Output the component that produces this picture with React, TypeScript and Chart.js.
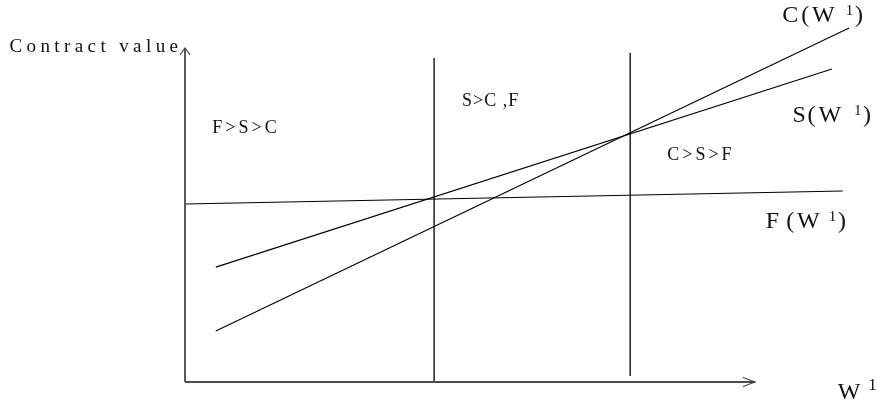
import React, { useEffect, useRef } from "react";
import { Chart, registerables } from "chart.js";

Chart.register(...registerables);

// ---- data (W¹ on x, contract value on y, arbitrary units) ----
const AXIS_W = [0, 100];
const AXIS_V = [0, 100];
const F_W = [0, 115.4];
const F_V = [53.3, 57.2];
const S_W = [5.4, 113.5];
const S_V = [34.4, 93.7];
const C_W = [5.4, 116.5];
const C_V = [15.3, 106.0];
const CUTOFF_W = [43.7, 78.1];
const CUTOFF_LOW = [0, 1.8];
const CUTOFF_HIGH = [97.0, 98.5];

const REGION_LABELS = ["F>S>C", "S>C ,F", "C>S>F"];
const REGION_W = [4.8, 48.6, 84.6];
const REGION_V = [74.6, 82.5, 66.5];

const CURVE_NAMES = ["C", "S", "F"];
const CURVE_W = [104.8, 106.6, 101.9];
const CURVE_V = [107.8, 77.8, 46.1];

const Y_TITLE = "Contract value";
const Y_TITLE_POS = [-30.8, 98.9];
const X_TITLE = "W";
const X_TITLE_POS = [114.5, -5.1];
const SUP = "1";

// layout of the curve-label pieces: gaps (px) before "(", "W", "1", ")"
const CURVE_GAPS = [
  [2.8, 2.9, 11, 1.7],
  [1.6, 3.0, 12.7, 1.7],
  [7.0, 2.9, 9.0, 1.7],
];

const FONT = "'Liberation Serif', 'Times New Roman', serif";

const pts = (xs: number[], ys: number[]) => xs.map((x, i) => ({ x, y: ys[i] }));

function spacedText(ctx: CanvasRenderingContext2D, text: string, x: number, y: number, spacing: number) {
  let cx = x;
  for (const ch of text) {
    ctx.fillText(ch, cx, y);
    cx += ctx.measureText(ch).width + spacing;
  }
  return cx - spacing;
}

type Part = { text: string; size: number; raise?: number; gap?: number; spacing?: number };

function rich(ctx: CanvasRenderingContext2D, x: number, y: number, parts: Part[]) {
  let cx = x;
  for (const p of parts) {
    cx += p.gap || 0;
    ctx.font = `${p.size}px ${FONT}`;
    cx = spacedText(ctx, p.text, cx, y - (p.raise || 0), p.spacing || 0);
  }
}

const annotations = {
  id: "annotations",
  afterDatasetsDraw(chart: any) {
    const ctx: CanvasRenderingContext2D = chart.ctx;
    const xs = chart.scales.x;
    const ys = chart.scales.y;
    const px = (v: number) => xs.getPixelForValue(v);
    const py = (v: number) => ys.getPixelForValue(v);
    ctx.save();
    // arrowheads
    ctx.strokeStyle = "#444";
    ctx.lineWidth = 1.2;
    const ox = px(AXIS_W[0]);
    const oy = py(AXIS_V[0]);
    const tx = px(AXIS_W[1]);
    const ty = py(AXIS_V[1]);
    ctx.beginPath();
    ctx.moveTo(tx - 12, oy - 4.5);
    ctx.lineTo(tx, oy);
    ctx.lineTo(tx - 12, oy + 4.5);
    ctx.stroke();
    ctx.beginPath();
    ctx.moveTo(ox - 5, ty + 7);
    ctx.lineTo(ox, ty);
    ctx.lineTo(ox + 5, ty + 7);
    ctx.stroke();

    ctx.fillStyle = "#111";
    ctx.textBaseline = "alphabetic";
    ctx.textAlign = "left";
    // y title
    ctx.font = `19px ${FONT}`;
    spacedText(ctx, Y_TITLE, px(Y_TITLE_POS[0]), py(Y_TITLE_POS[1]), 4.4);
    // region labels
    const regionSpacing = [3, 1, 3];
    ctx.font = `18px ${FONT}`;
    REGION_LABELS.forEach((t, i) => {
      spacedText(ctx, t, px(REGION_W[i]), py(REGION_V[i]), regionSpacing[i]);
    });
    // curve labels
    CURVE_NAMES.forEach((t, i) => {
      const g = CURVE_GAPS[i];
      rich(ctx, px(CURVE_W[i]), py(CURVE_V[i]), [
        { text: t, size: 24 },
        { text: "(", size: 24, gap: g[0] },
        { text: X_TITLE, size: 24, gap: g[1] },
        { text: SUP, size: 15, raise: 7, gap: g[2] },
        { text: ")", size: 24, gap: g[3] },
      ]);
    });
    rich(ctx, px(X_TITLE_POS[0]), py(X_TITLE_POS[1]), [
      { text: X_TITLE, size: 24 },
      { text: SUP, size: 17, raise: 9, gap: 8 },
    ]);
    ctx.restore();
  },
};

export default function App() {
  const ref = useRef<HTMLCanvasElement>(null);
  useEffect(() => {
    const line = (data: any[], color: string, width: number) => ({
      data,
      showLine: true,
      borderColor: color,
      borderWidth: width,
      pointRadius: 0,
      clip: false as const,
      fill: false,
      tension: 0,
    });
    const chart = new Chart(ref.current!, {
      type: "scatter",
      data: {
        datasets: [
          line(pts([AXIS_W[0], AXIS_W[0]], [AXIS_V[0], AXIS_V[1]]), "#5a5a5a", 2),
          line(pts([AXIS_W[0], AXIS_W[1]], [AXIS_V[0], AXIS_V[0]]), "#4a4a4a", 2),
          line(pts(F_W, F_V), "#000", 1.1),
          line(pts(S_W, S_V), "#000", 1.1),
          line(pts(C_W, C_V), "#000", 1.1),
          line(pts([CUTOFF_W[0], CUTOFF_W[0]], [CUTOFF_LOW[0], CUTOFF_HIGH[0]]), "#000", 1.3),
          line(pts([CUTOFF_W[1], CUTOFF_W[1]], [CUTOFF_LOW[1], CUTOFF_HIGH[1]]), "#000", 1.3),
        ],
      },
      options: {
        animation: false,
        responsive: false,
        events: [],
        layout: { padding: { left: 185, right: 122, top: 48, bottom: 22 } },
        scales: {
          x: { type: "linear", min: AXIS_W[0], max: AXIS_W[1], display: false },
          y: { type: "linear", min: AXIS_V[0], max: AXIS_V[1], display: false },
        },
        plugins: { legend: { display: false }, tooltip: { enabled: false } },
      },
      plugins: [annotations],
    });
    return () => chart.destroy();
  }, []);
  return (
    <div style={{ position: "fixed", left: 0, top: 0, width: 877, height: 404, background: "#fff" }}>
      <canvas ref={ref} width={877} height={404} style={{ display: "block", width: 877, height: 404 }} />
    </div>
  );
}
